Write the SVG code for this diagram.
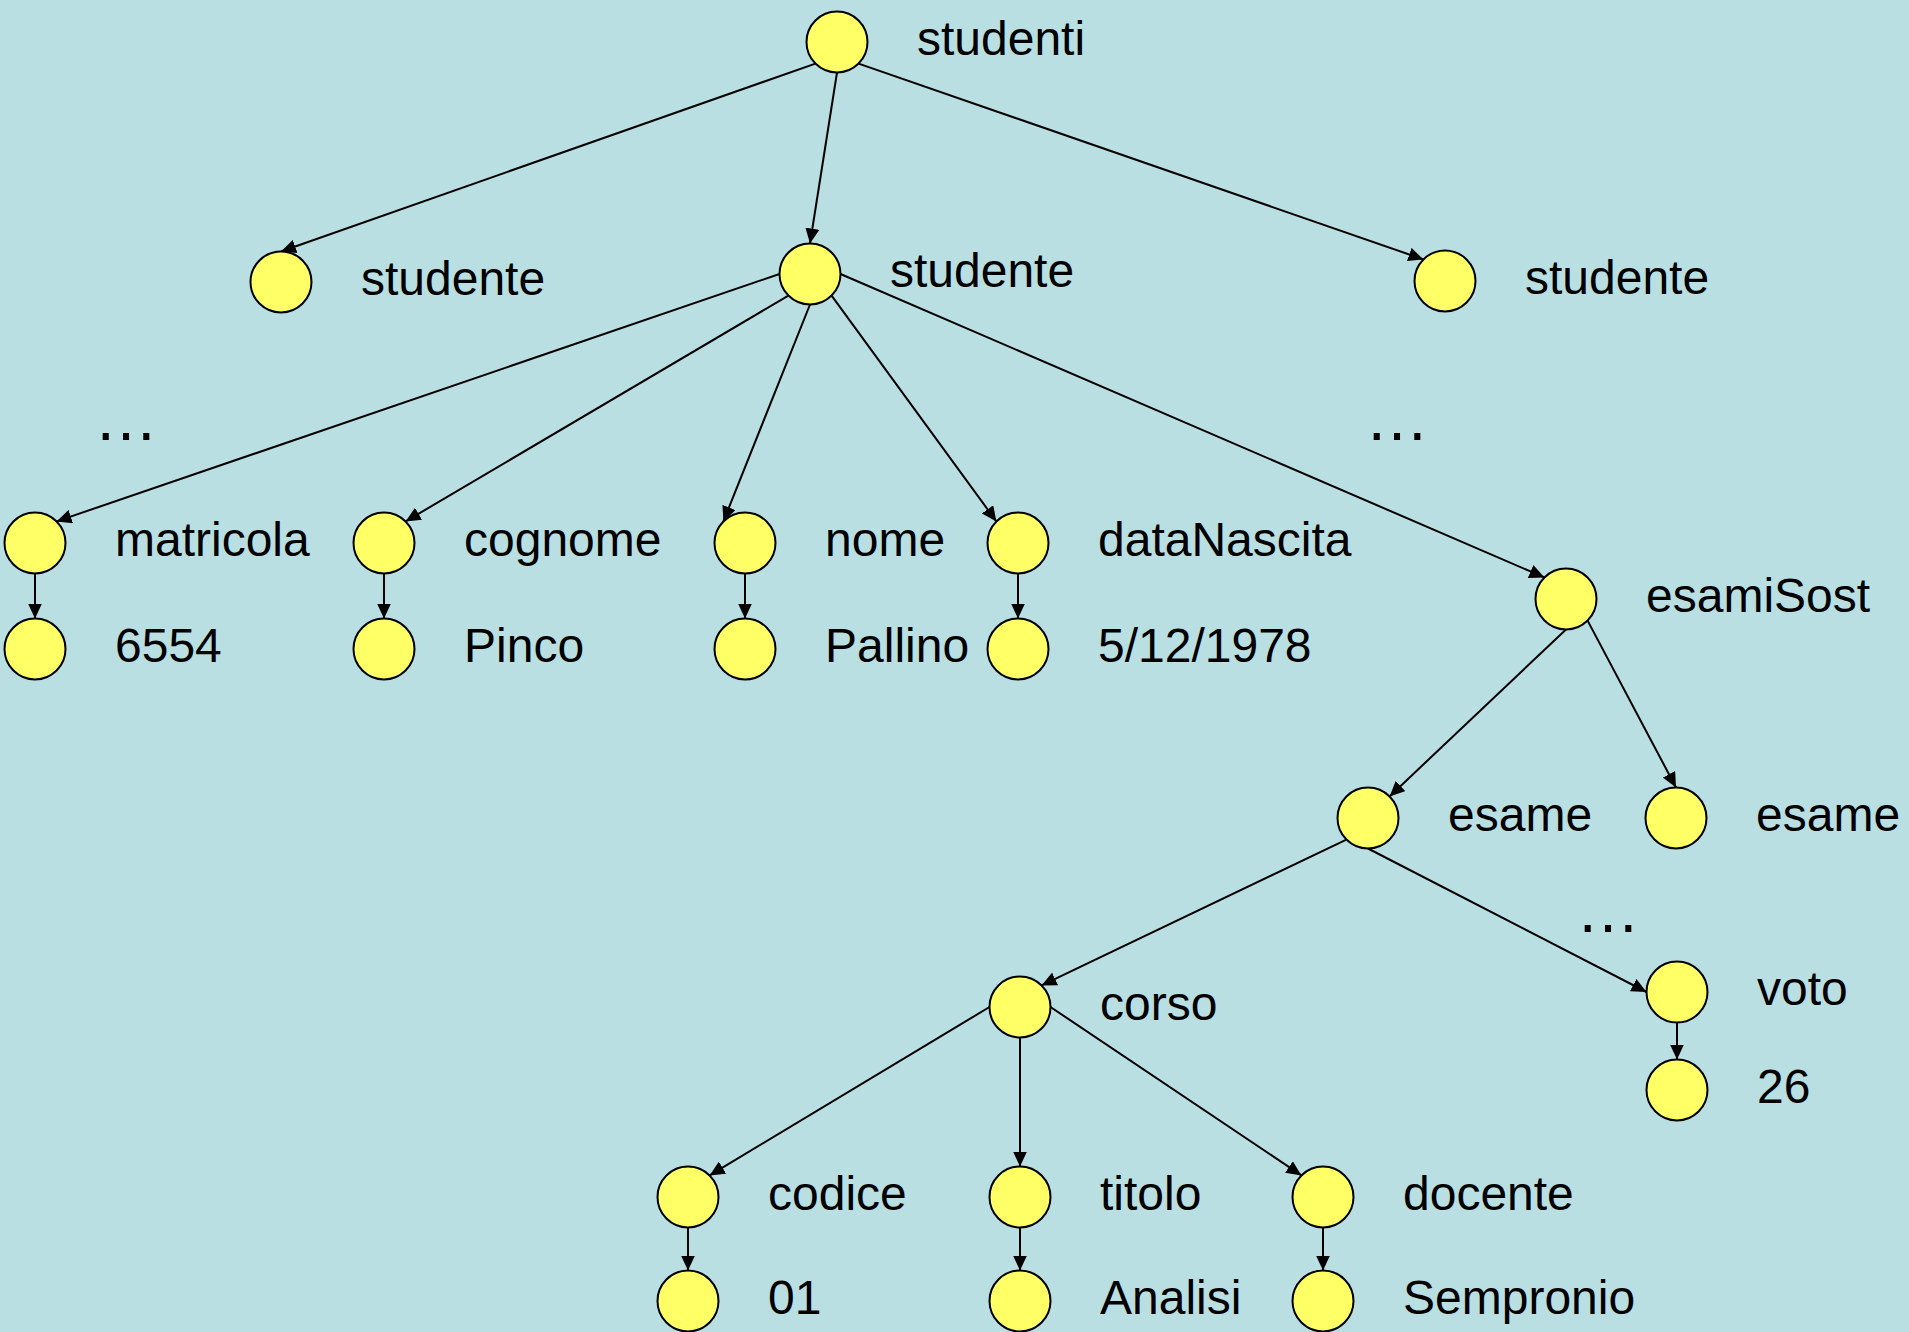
<svg xmlns="http://www.w3.org/2000/svg" width="1909" height="1332" viewBox="0 0 1909 1332">
  <style>
    .node circle { fill: #FFFF66; stroke: #000; stroke-width: 2; }
    .node text, .dots { font-family: "Liberation Sans", Arial, sans-serif; font-size: 48px; fill: #000; }
    .dots { font-size: 64px; text-anchor: middle; }
    .edge { stroke: #000; stroke-width: 2; fill: none; marker-end: url(#arrow); }
  </style>
  <defs>
    <marker id="arrow" viewBox="0 0 15 14" refX="15" refY="7" markerWidth="15" markerHeight="14" markerUnits="userSpaceOnUse" orient="auto">
      <path d="M0,0 L15,7 L0,14 z" fill="#000"/>
    </marker>
  </defs>
  <rect x="0" y="0" width="1909" height="1332" fill="#B9DFE3"/>

  <!-- connectors -->
  <g id="connectors">
    <line class="edge" x1="815.4" y1="63.6" x2="281" y2="251.5"/>
    <line class="edge" x1="837" y1="72.5" x2="810" y2="243.5"/>
    <line class="edge" x1="858.6" y1="63.6" x2="1423.4" y2="259.4"/>
    <line class="edge" x1="779.5" y1="274" x2="56.6" y2="521.4"/>
    <line class="edge" x1="788.4" y1="295.6" x2="405.6" y2="521.4"/>
    <line class="edge" x1="810" y1="304.5" x2="723.4" y2="521.4"/>
    <line class="edge" x1="831.6" y1="295.6" x2="996.4" y2="521.4"/>
    <line class="edge" x1="840.5" y1="274" x2="1544.4" y2="577.4"/>
    <line class="edge" x1="35" y1="573.5" x2="35" y2="618.5"/>
    <line class="edge" x1="384" y1="573.5" x2="384" y2="618.5"/>
    <line class="edge" x1="745" y1="573.5" x2="745" y2="618.5"/>
    <line class="edge" x1="1018" y1="573.5" x2="1018" y2="618.5"/>
    <line class="edge" x1="1566" y1="629.5" x2="1389.6" y2="796.4"/>
    <line class="edge" x1="1587.6" y1="620.6" x2="1676" y2="787.5"/>
    <line class="edge" x1="1346.4" y1="839.6" x2="1041.6" y2="985.4"/>
    <line class="edge" x1="1368" y1="848.5" x2="1646.5" y2="992"/>
    <line class="edge" x1="1677" y1="1022.5" x2="1677" y2="1059.5"/>
    <line class="edge" x1="989.5" y1="1007" x2="709.6" y2="1175.4"/>
    <line class="edge" x1="1020" y1="1037.5" x2="1020" y2="1166.5"/>
    <line class="edge" x1="1050.5" y1="1007" x2="1301.4" y2="1175.4"/>
    <line class="edge" x1="688" y1="1227.5" x2="688" y2="1270.5"/>
    <line class="edge" x1="1020" y1="1227.5" x2="1020" y2="1270.5"/>
    <line class="edge" x1="1323" y1="1227.5" x2="1323" y2="1270.5"/>
  </g>

  <!-- omitted siblings -->
  <text class="dots" x="126" y="440">…</text>
  <text class="dots" x="1397" y="440">…</text>
  <text class="dots" x="1608" y="932">…</text>

  <!-- nodes -->
  <g id="studenti" class="node"><circle cx="837" cy="42" r="30.5"/><text x="917" y="55">studenti</text></g>
  <g id="studente1" class="node"><circle cx="281" cy="282" r="30.5"/><text x="361" y="295">studente</text></g>
  <g id="studente2" class="node"><circle cx="810" cy="274" r="30.5"/><text x="890" y="287">studente</text></g>
  <g id="studente3" class="node"><circle cx="1445" cy="281" r="30.5"/><text x="1525" y="294">studente</text></g>
  <g id="matricola" class="node"><circle cx="35" cy="543" r="30.5"/><text x="115" y="556">matricola</text></g>
  <g id="matricola-val" class="node"><circle cx="35" cy="649" r="30.5"/><text x="115" y="662">6554</text></g>
  <g id="cognome" class="node"><circle cx="384" cy="543" r="30.5"/><text x="464" y="556">cognome</text></g>
  <g id="cognome-val" class="node"><circle cx="384" cy="649" r="30.5"/><text x="464" y="662">Pinco</text></g>
  <g id="nome" class="node"><circle cx="745" cy="543" r="30.5"/><text x="825" y="556">nome</text></g>
  <g id="nome-val" class="node"><circle cx="745" cy="649" r="30.5"/><text x="825" y="662">Pallino</text></g>
  <g id="dataNascita" class="node"><circle cx="1018" cy="543" r="30.5"/><text x="1098" y="556">dataNascita</text></g>
  <g id="dataNascita-val" class="node"><circle cx="1018" cy="649" r="30.5"/><text x="1098" y="662">5/12/1978</text></g>
  <g id="esamiSost" class="node"><circle cx="1566" cy="599" r="30.5"/><text x="1646" y="612">esamiSost</text></g>
  <g id="esame1" class="node"><circle cx="1368" cy="818" r="30.5"/><text x="1448" y="831">esame</text></g>
  <g id="esame2" class="node"><circle cx="1676" cy="818" r="30.5"/><text x="1756" y="831">esame</text></g>
  <g id="corso" class="node"><circle cx="1020" cy="1007" r="30.5"/><text x="1100" y="1020">corso</text></g>
  <g id="voto" class="node"><circle cx="1677" cy="992" r="30.5"/><text x="1757" y="1005">voto</text></g>
  <g id="voto-val" class="node"><circle cx="1677" cy="1090" r="30.5"/><text x="1757" y="1103">26</text></g>
  <g id="codice" class="node"><circle cx="688" cy="1197" r="30.5"/><text x="768" y="1210">codice</text></g>
  <g id="codice-val" class="node"><circle cx="688" cy="1301" r="30.5"/><text x="768" y="1314">01</text></g>
  <g id="titolo" class="node"><circle cx="1020" cy="1197" r="30.5"/><text x="1100" y="1210">titolo</text></g>
  <g id="titolo-val" class="node"><circle cx="1020" cy="1301" r="30.5"/><text x="1100" y="1314">Analisi</text></g>
  <g id="docente" class="node"><circle cx="1323" cy="1197" r="30.5"/><text x="1403" y="1210">docente</text></g>
  <g id="docente-val" class="node"><circle cx="1323" cy="1301" r="30.5"/><text x="1403" y="1314">Sempronio</text></g>
</svg>
